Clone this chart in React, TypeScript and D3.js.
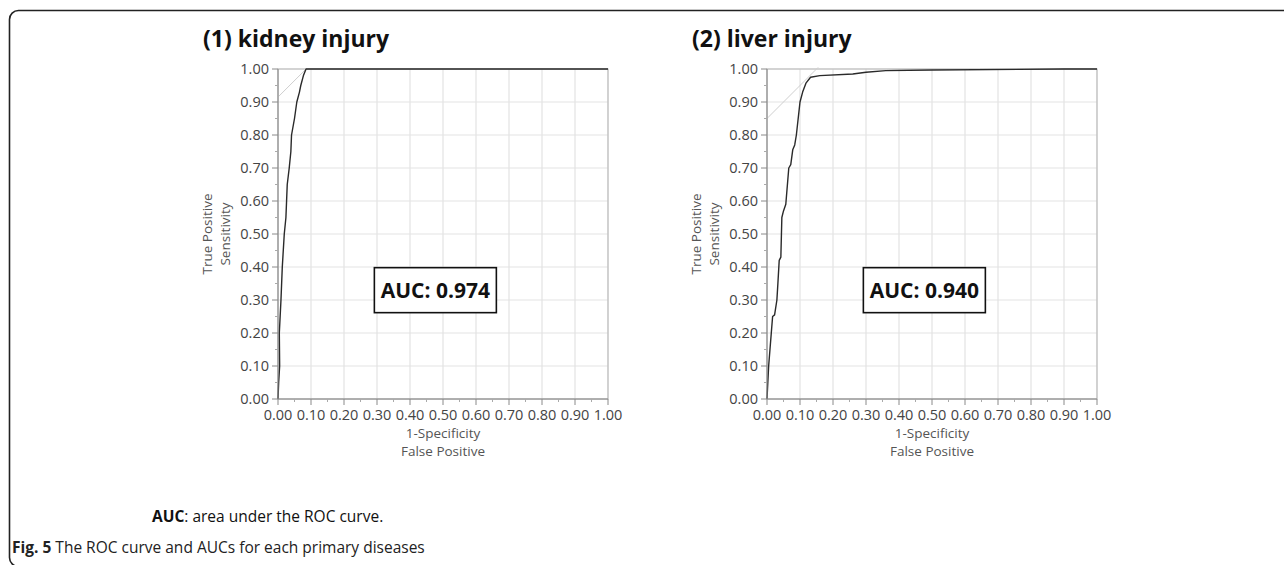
import React from "react";
import { scaleLinear, line, range } from "d3";

// ROC curves: [1-specificity, sensitivity]
const kidneyRoc: [number, number][] = [
  [0, 0], [0.002, 0.05], [0.005, 0.1], [0.004, 0.2], [0.009, 0.3],
  [0.013, 0.4], [0.019, 0.5], [0.024, 0.55], [0.026, 0.6], [0.028, 0.65],
  [0.034, 0.7], [0.039, 0.75], [0.041, 0.8], [0.05, 0.85], [0.057, 0.9],
  [0.065, 0.93], [0.069, 0.95], [0.077, 0.98], [0.085, 1.0], [0.2, 1.0],
  [0.6, 1.0], [1.0, 1.0]
];

const liverRoc: [number, number][] = [
  [0, 0], [0.005, 0.1], [0.013, 0.2], [0.017, 0.25], [0.023, 0.255],
  [0.03, 0.3], [0.033, 0.35], [0.037, 0.42], [0.042, 0.43], [0.045, 0.55],
  [0.05, 0.57], [0.057, 0.59], [0.066, 0.7], [0.072, 0.71], [0.078, 0.755],
  [0.084, 0.77], [0.089, 0.8], [0.1, 0.9], [0.108, 0.93], [0.118, 0.957],
  [0.132, 0.975], [0.16, 0.98], [0.26, 0.985], [0.3, 0.99], [0.36, 0.995],
  [0.5, 0.997], [0.9, 1.0], [1.0, 1.0]
];

// optimal-cutoff tangent lines (slope 1)
const kidneyTangent: [number, number][] = [[0, 0.915], [0.085, 1.0]];
const liverTangent: [number, number][] = [[0, 0.85], [0.155, 1.005]];

const titles = ["(1) kidney injury", "(2) liver injury"];
const aucLabels = ["AUC: 0.974", "AUC: 0.940"];
const majorTicks = range(0, 11).map(i => i / 10);
const minorTicks = range(0, 10).map(i => i / 10 + 0.05);

const TICK_FONT = "'Open Sans', 'DejaVu Sans', sans-serif";

const RocPanel: React.FC<{
  left: number;
  title: string;
  auc: string;
  data: [number, number][];
  tangent: [number, number][];
}> = ({ left, title, auc, data, tangent }) => {
  const WIDTH = 330;
  const TOP = 69;
  const BOTTOM = 399;

  const xScale = scaleLinear().domain([0, 1]).range([left, left + WIDTH]);
  const yScale = scaleLinear().domain([0, 1]).range([BOTTOM, TOP]);

  const lineFunction = line<[number, number]>()
    .x(d => xScale(d[0]))
    .y(d => yScale(d[1]));

  const fmt = (v: number) => v.toFixed(2);

  return (
    <g>
      <text
        x={left - 75}
        y={47}
        fontFamily={TICK_FONT}
        fontWeight="bold"
        fontSize="23"
        fill="#111"
      >
        {title}
      </text>

      {/* grid */}
      {majorTicks.map(v => (
        <g key={"g" + v}>
          <line
            x1={xScale(v)}
            x2={xScale(v)}
            y1={yScale(0)}
            y2={yScale(1)}
            stroke="#e3e3e3"
            strokeWidth={1.2}
          />
          <line
            x1={xScale(0)}
            x2={xScale(1)}
            y1={yScale(v)}
            y2={yScale(v)}
            stroke="#e3e3e3"
            strokeWidth={1.2}
          />
        </g>
      ))}
      <rect
        x={xScale(0)}
        y={yScale(1)}
        width={WIDTH}
        height={BOTTOM - TOP}
        fill="none"
        stroke="#b5b5b5"
        strokeWidth={1}
      />

      {/* tangent line */}
      <path d={lineFunction(tangent)!} stroke="#cfcfcf" strokeWidth={1} fill="none" />

      {/* ROC curve */}
      <path
        d={lineFunction(data)!}
        stroke="#2a2a2a"
        strokeWidth={1.4}
        fill="none"
        strokeLinejoin="round"
      />

      {/* y axis */}
      <line x1={xScale(0)} x2={xScale(0)} y1={yScale(0)} y2={yScale(1)} stroke="#8a8a8a" />
      {majorTicks.map(v => (
        <g key={"y" + v} transform={`translate(${xScale(0)}, ${yScale(v)})`}>
          <line x1={-6} stroke="#8a8a8a" />
          <text
            x={-9}
            dy="0.35em"
            textAnchor="end"
            fontFamily={TICK_FONT}
            fontSize="14.5"
            fill="#444"
          >
            {fmt(v)}
          </text>
        </g>
      ))}
      {minorTicks.map(v => (
        <line
          key={"ym" + v}
          x1={xScale(0) - 3}
          x2={xScale(0)}
          y1={yScale(v)}
          y2={yScale(v)}
          stroke="#aaa"
        />
      ))}

      {/* x axis */}
      <line x1={xScale(0)} x2={xScale(1)} y1={yScale(0)} y2={yScale(0)} stroke="#8a8a8a" />
      {majorTicks.map(v => (
        <g key={"x" + v} transform={`translate(${xScale(v)}, ${yScale(0)})`}>
          <line y2={6} stroke="#8a8a8a" />
          <text
            y={21}
            textAnchor="middle"
            fontFamily={TICK_FONT}
            fontSize="14.5"
            fill="#444"
          >
            {fmt(v)}
          </text>
        </g>
      ))}
      {minorTicks.map(v => (
        <line
          key={"xm" + v}
          x1={xScale(v)}
          x2={xScale(v)}
          y1={yScale(0)}
          y2={yScale(0) + 3}
          stroke="#aaa"
        />
      ))}

      {/* axis titles */}
      <g fontFamily={TICK_FONT} fontSize="13.5" fill="#555" textAnchor="middle">
        <text x={xScale(0.5)} y={BOTTOM + 39}>1-Specificity</text>
        <text x={xScale(0.5)} y={BOTTOM + 57}>False Positive</text>
        <text transform={`translate(${left - 66}, ${yScale(0.5)}) rotate(-90)`}>True Positive</text>
        <text transform={`translate(${left - 48}, ${yScale(0.5)}) rotate(-90)`}>Sensitivity</text>
      </g>

      {/* AUC box */}
      <rect
        x={xScale(0.292)}
        y={yScale(0.398)}
        width={122}
        height={45}
        fill="#fff"
        stroke="#111"
        strokeWidth={1.6}
      />
      <text
        x={xScale(0.292) + 61}
        y={yScale(0.398) + 30}
        textAnchor="middle"
        fontFamily={TICK_FONT}
        fontWeight="bold"
        fontSize="21"
        fill="#111"
      >
        {auc}
      </text>
    </g>
  );
};

export default function App() {
  return (
    <svg
      width={1284}
      height={565}
      style={{ position: "absolute", left: 0, top: 0, background: "#fff" }}
    >
      <rect x={9.5} y={10.5} width={1300} height={556} rx={9} fill="none" stroke="#222" strokeWidth={1.6} />

      <RocPanel left={278} title={titles[0]} auc={aucLabels[0]} data={kidneyRoc} tangent={kidneyTangent} />
      <RocPanel left={767} title={titles[1]} auc={aucLabels[1]} data={liverRoc} tangent={liverTangent} />

      <text x={152} y={522} fontFamily={TICK_FONT} fontSize="15.5" fill="#111">
        <tspan fontWeight="bold">AUC</tspan>: area under the ROC curve.
      </text>
      <text x={12} y={553} fontFamily={TICK_FONT} fontSize="15.5" fill="#222">
        <tspan fontWeight="bold">Fig. 5</tspan> The ROC curve and AUCs for each primary diseases
      </text>
    </svg>
  );
}
